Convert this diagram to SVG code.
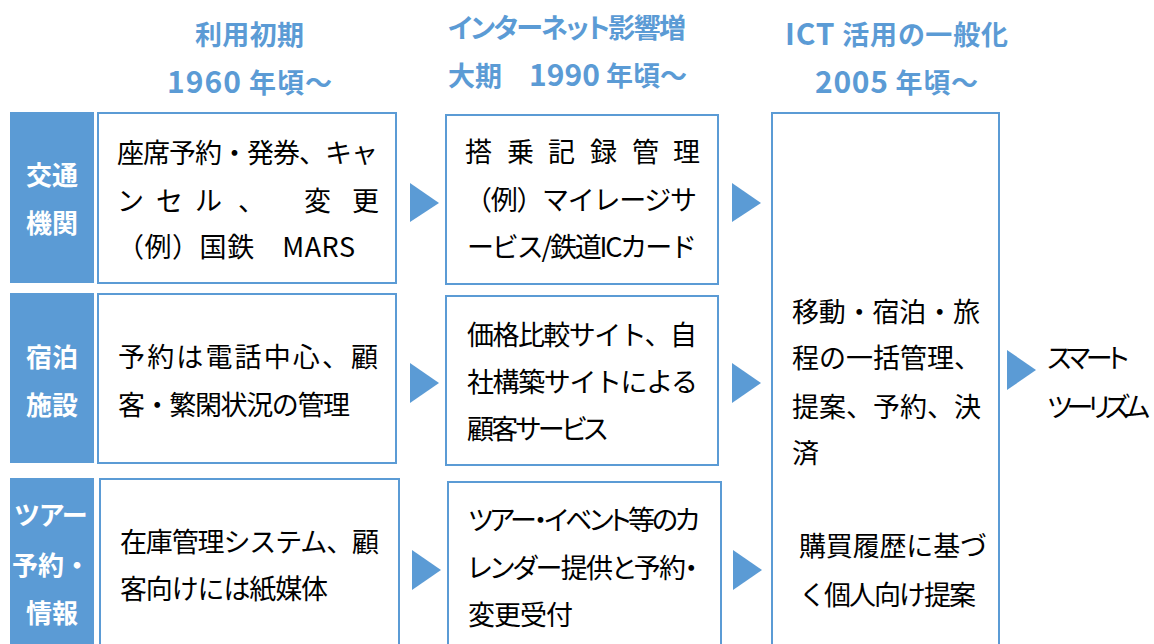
<svg xmlns="http://www.w3.org/2000/svg" width="1154" height="644" viewBox="0 0 1154 644">
<style>
text{font-family:"Noto Sans CJK JP","Noto Sans",sans-serif;}
.p{font-feature-settings:"palt" 1;}
.hdr{font-size:27px;font-weight:bold;fill:#5B9BD5;}
.num{font-size:30px;}
.lbl{font-size:26px;font-weight:bold;fill:#FFFFFF;text-anchor:middle;}
.body{font-size:27px;fill:#000000;}
.lrect{fill:#5B9BD5;}
.box{fill:#FFFFFF;stroke:#5B9BD5;stroke-width:2;}
.arr{fill:#5B9BD5;}
</style>
<rect x="0" y="0" width="1154" height="644" fill="#FFFFFF"/>
<g id="headers">
<text class="hdr" x="195" y="45" textLength="109" lengthAdjust="spacing">利用初期</text>
<text class="hdr" x="167" y="93" textLength="165" lengthAdjust="spacing"><tspan class="num">1960</tspan> 年頃～</text>
<text class="hdr p" x="448" y="38" textLength="238" lengthAdjust="spacing">インターネット影響増</text>
<text class="hdr" x="448" y="86" textLength="239" lengthAdjust="spacing">大期　<tspan class="num">1990</tspan> 年頃～</text>
<text class="hdr p" x="785" y="45" textLength="223" lengthAdjust="spacing"><tspan class="num">ICT</tspan> 活用の一般化</text>
<text class="hdr" x="815" y="93" textLength="163" lengthAdjust="spacing"><tspan class="num">2005</tspan> 年頃～</text>
</g>
<g id="label-transport">
<rect class="lrect" x="10" y="112" width="84" height="171"/>
<text class="lbl" x="52" y="185">交通</text>
<text class="lbl" x="52" y="233">機関</text>
</g>
<g id="label-lodging">
<rect class="lrect" x="10" y="293" width="84" height="170"/>
<text class="lbl" x="52" y="367">宿泊</text>
<text class="lbl" x="52" y="415">施設</text>
</g>
<g id="label-tour">
<rect class="lrect" x="10" y="478" width="84" height="170"/>
<text class="lbl p" x="51" y="525">ツアー</text>
<text class="lbl" x="51" y="575">予約・</text>
<text class="lbl" x="52" y="623">情報</text>
</g>
<g id="transport-1960">
<rect class="box" x="98" y="113" width="298" height="170"/>
<text class="body" x="117" y="163" textLength="261" lengthAdjust="spacing">座席予約・発券、キャ</text>
<text class="body" x="117 156 195 238 304 352" y="211">ンセル、変更</text>
<text class="body" x="117" y="257" textLength="238" lengthAdjust="spacing">（例）国鉄　MARS</text>
</g>
<g id="lodging-1960">
<rect class="box" x="98" y="294" width="298" height="169"/>
<text class="body" x="118" y="367" textLength="260" lengthAdjust="spacing">予約は電話中心、顧</text>
<text class="body" x="118" y="415" textLength="232" lengthAdjust="spacing">客・繁閑状況の管理</text>
</g>
<g id="tour-1960">
<rect class="box" x="100" y="479" width="299" height="170"/>
<text class="body" x="120" y="552" textLength="259" lengthAdjust="spacing">在庫管理システム、顧</text>
<text class="body" x="120" y="599" textLength="208" lengthAdjust="spacing">客向けには紙媒体</text>
</g>
<g id="transport-1990">
<rect class="box" x="446" y="115" width="272" height="169"/>
<text class="body" x="465 507 548 590 632 673" y="162">搭乗記録管理</text>
<text class="body" x="465" y="210" textLength="232" lengthAdjust="spacing">（例）マイレージサ</text>
<text class="body" x="467" y="257" textLength="230" lengthAdjust="spacing">ービス/鉄道ICカード</text>
</g>
<g id="lodging-1990">
<rect class="box" x="446" y="296" width="272" height="169"/>
<text class="body" x="467" y="345" textLength="230" lengthAdjust="spacing">価格比較サイト、自</text>
<text class="body" x="467" y="392" textLength="231" lengthAdjust="spacing">社構築サイトによる</text>
<text class="body p" x="467" y="439" textLength="141" lengthAdjust="spacing">顧客サービス</text>
</g>
<g id="tour-1990">
<rect class="box" x="448" y="482" width="273" height="170"/>
<text class="body p" x="468" y="530" textLength="232" lengthAdjust="spacing">ツアー・イベント等のカ</text>
<text class="body p" x="468" y="578" textLength="230" lengthAdjust="spacing">レンダー提供と予約・</text>
<text class="body" x="468" y="625" textLength="105" lengthAdjust="spacing">変更受付</text>
</g>
<g id="ict-2005">
<rect class="box" x="772" y="113" width="227" height="540"/>
<text class="body" x="792" y="322" textLength="188" lengthAdjust="spacing">移動・宿泊・旅</text>
<text class="body" x="792" y="368" textLength="189" lengthAdjust="spacing">程の一括管理、</text>
<text class="body" x="792" y="417" textLength="189" lengthAdjust="spacing">提案、予約、決</text>
<text class="body" x="792" y="463">済</text>
<text class="body" x="799" y="556" textLength="188" lengthAdjust="spacing">購買履歴に基づ</text>
<text class="body" x="799" y="605" textLength="177" lengthAdjust="spacing">く個人向け提案</text>
</g>
<g id="smart-tourism">
<text class="body p" x="1047" y="368" textLength="82" lengthAdjust="spacing">スマート</text>
<text class="body p" x="1047" y="417" textLength="103" lengthAdjust="spacing">ツーリズム</text>
</g>
<g id="connectors">
<polygon class="arr" points="410,183 439,203 410,222"/>
<polygon class="arr" points="410,363 439,383 410,403"/>
<polygon class="arr" points="412,550 441,570 412,590"/>
<polygon class="arr" points="732,183 761,203 732,222"/>
<polygon class="arr" points="732,363 761,383 732,403"/>
<polygon class="arr" points="733,550 762,570 733,590"/>
<polygon class="arr" points="1007,350 1036,370 1007,390"/>
</g>
</svg>
